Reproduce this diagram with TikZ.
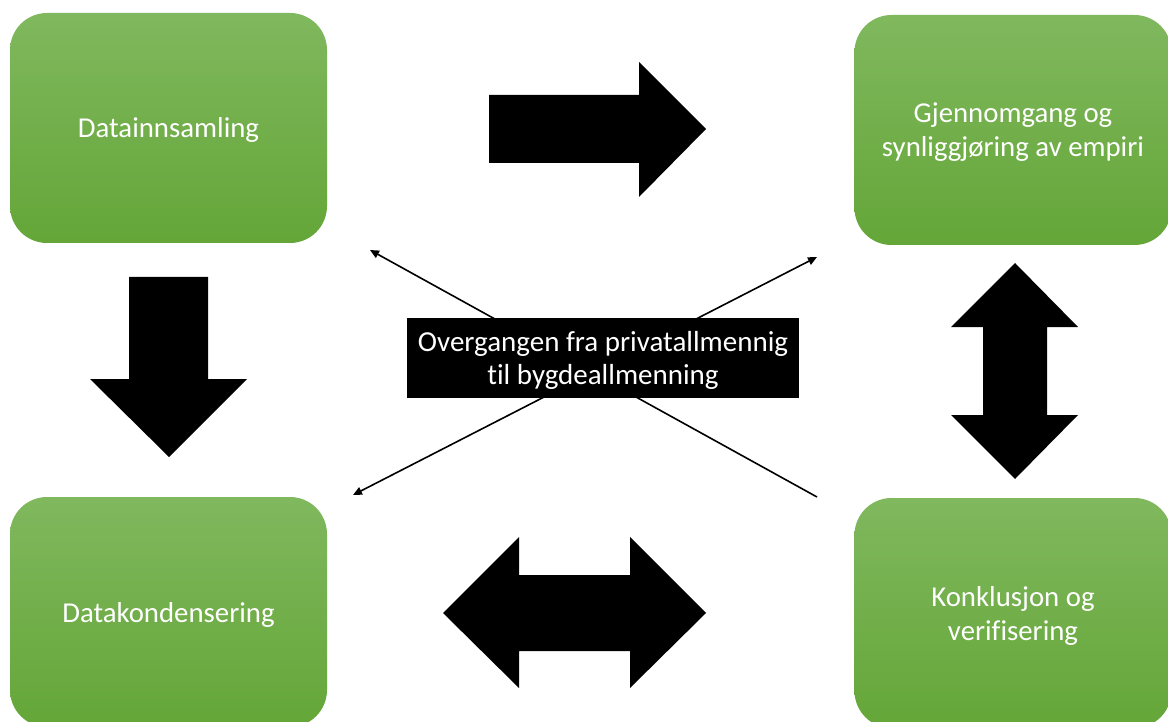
\documentclass[tikz,border=0pt]{standalone}
\usepackage{fontspec}
\setmainfont{Carlito}[Ligatures=NoCommon]
\usetikzlibrary{arrows.meta}
\definecolor{boxtop}{RGB}{128,184,94}
\definecolor{boxbottom}{RGB}{100,166,56}
\begin{document}
\begin{tikzpicture}[x=1pt, y=-1pt,
		stage/.style = {shape=rectangle, rounded corners=37pt, minimum width=317pt, minimum height=230pt,
			top color=boxtop, bottom color=boxbottom, text=white, align=center, text depth=-1.5pt,
			font=\fontsize{28.8}{34}\selectfont},
		topic/.style = {shape=rectangle, fill=black, text=white, align=center, inner sep=0pt,
			minimum width=392pt, minimum height=80pt, font=\fontsize{29}{33}\selectfont},
		blockarrow/.style = {fill=black},
		thinarrow/.style = {line width=1.6pt, >={Triangle[length=9pt,width=8pt]}}]
	
	\clip (0,0) rectangle (1168,722);
	
	\node[stage] (samling) at (168.5,128) {Datainnsamling};
	\node[stage] (empiri) at (1013,130) {Gjennomgang og\\synliggjøring av empiri};
	\node[stage] (kondens) at (168.5,612) {Datakondensering};
	\node[stage] (konklusjon) at (1013,613) {Konklusjon og\\verifisering};
	
	% block arrows between the stages
	\fill[blockarrow] (489,95) -- (639,95) -- (639,62) -- (706,129) -- (639,197) -- (639,163) -- (489,163) -- cycle;
	\fill[blockarrow] (129,277) -- (208,277) -- (208,379) -- (247,379) -- (169,457) -- (90,379) -- (129,379) -- cycle;
	\fill[blockarrow] (443,613) -- (519,537) -- (519,575) -- (630,575) -- (630,537) -- (706,613)
		-- (630,688) -- (630,651) -- (519,651) -- (519,688) -- cycle;
	\fill[blockarrow] (1015,263) -- (1078,327) -- (1047,327) -- (1047,415) -- (1078,415) -- (1015,479)
		-- (951,415) -- (983,415) -- (983,327) -- (951,327) -- cycle;
	
	\coordinate (nw) at (370,250);
	\coordinate (ne) at (817,257);
	\coordinate (sw) at (353,495);
	\coordinate (se) at (817,497);
	\draw[thinarrow, ->] (se) -- (nw);
	\draw[thinarrow, <->] (sw) -- (ne);
	
	\node[topic, text depth=-8pt] (overgang) at (603,358) {Overgangen fra privatallmennig\\til bygdeallmenning};
\end{tikzpicture}
\end{document}
